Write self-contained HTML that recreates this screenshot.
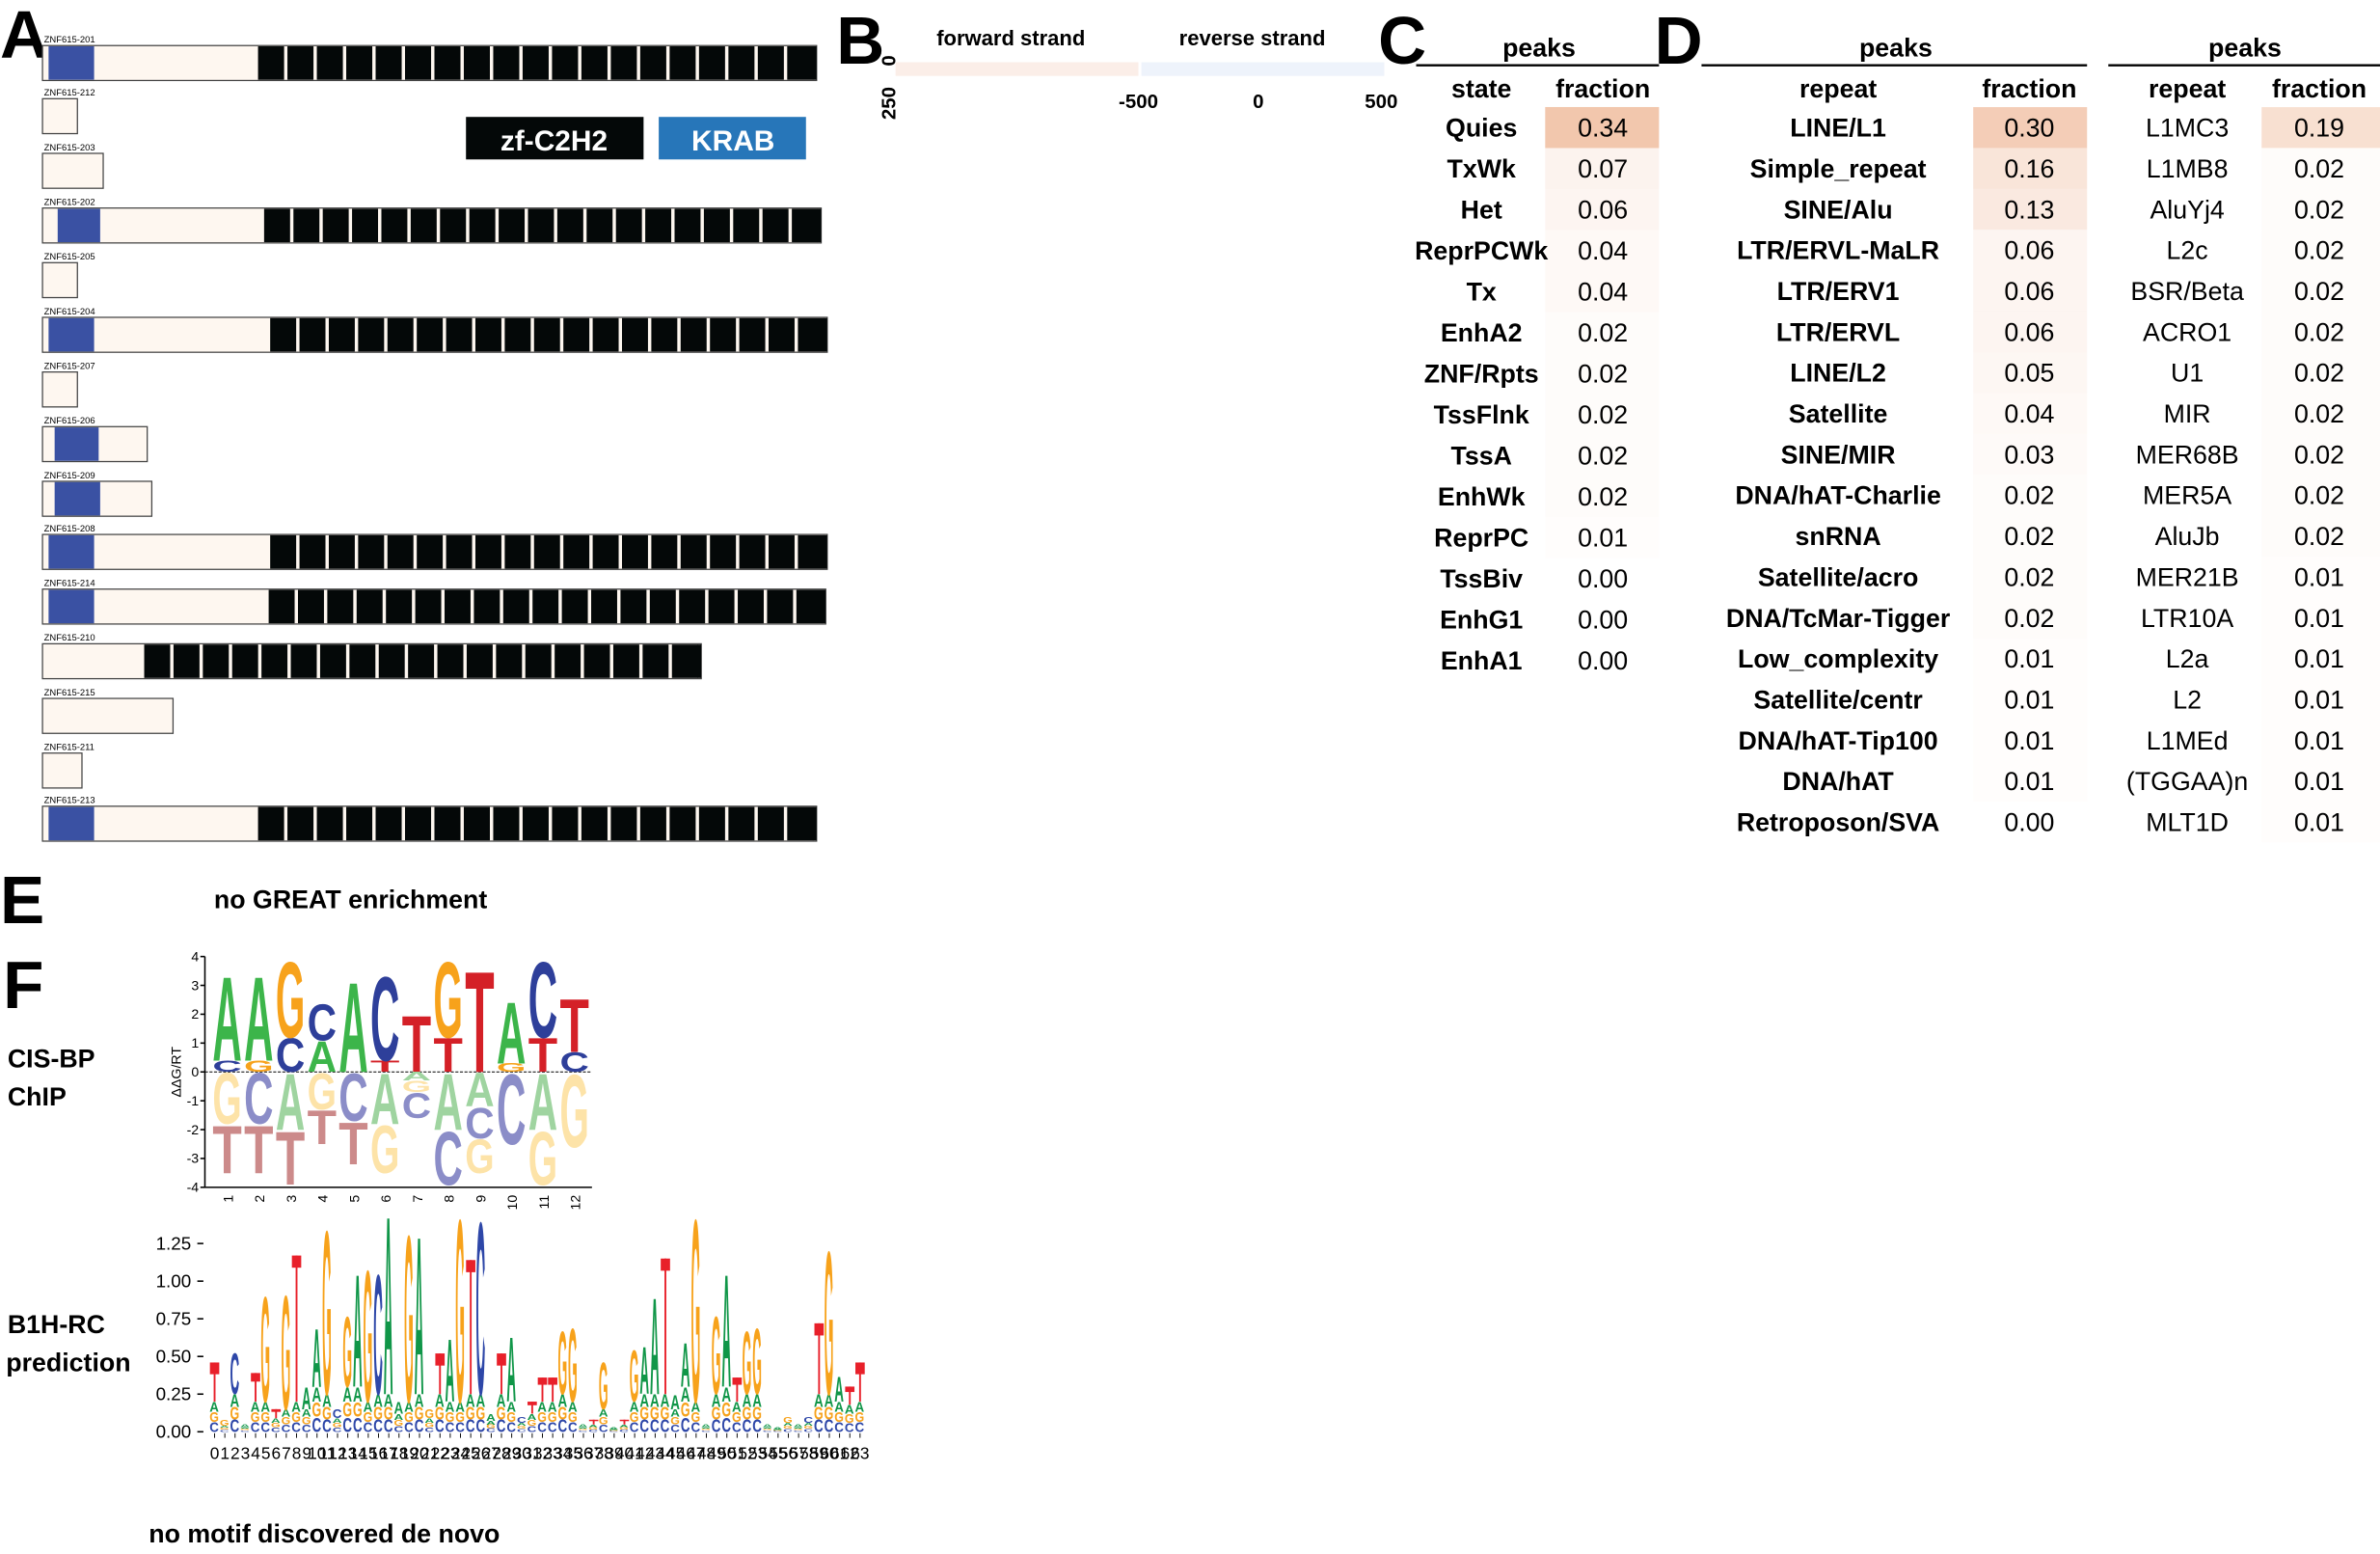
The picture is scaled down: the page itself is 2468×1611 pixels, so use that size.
<!DOCTYPE html>
<html><head><meta charset="utf-8"><style>
html,body{margin:0;padding:0;background:#fff;}
svg{display:block;font-family:"Liberation Sans",sans-serif;}
</style></head><body>
<svg id="fig" xmlns="http://www.w3.org/2000/svg" width="2468" height="1611" viewBox="0 0 1568 1023.5">
<g font-weight="bold" font-size="44" fill="#000">
<text x="0" y="38">A</text>
<text x="551" y="42">B</text>
<text x="908" y="42">C</text>
<text x="1090" y="42">D</text>
<text x="0" y="608">E</text>
<text x="2" y="664">F</text>
</g>
<g>
<rect x="307" y="77" width="117" height="28" fill="#040808"/>
<text x="365" y="99" font-size="19" font-weight="bold" fill="#fff" text-anchor="middle">zf-C2H2</text>
<rect x="434" y="77" width="97" height="28" fill="#2776b9"/>
<text x="483" y="99" font-size="19" font-weight="bold" fill="#fff" text-anchor="middle">KRAB</text>
</g>
<g id="transcripts"></g>
<g>
<text x="666" y="30" font-size="14" font-weight="bold" text-anchor="middle">forward strand</text>
<text x="825" y="30" font-size="14" font-weight="bold" text-anchor="middle">reverse strand</text>
<rect x="590" y="41" width="160" height="9" fill="#fbeee8"/>
<rect x="752" y="41" width="160" height="9" fill="#eef3fb"/>
<text transform="translate(590,40) rotate(-90)" font-size="13" font-weight="bold" text-anchor="middle">0</text>
<text transform="translate(590,68) rotate(-90)" font-size="13" font-weight="bold" text-anchor="middle">250</text>
<text x="750" y="71" font-size="13" font-weight="bold" text-anchor="middle">-500</text>
<text x="829" y="71" font-size="13" font-weight="bold" text-anchor="middle">0</text>
<text x="910" y="71" font-size="13" font-weight="bold" text-anchor="middle">500</text>
</g>
<g id="tables"></g>
<text x="141" y="598" font-size="17" font-weight="bold">no GREAT enrichment</text>
<text x="5" y="703" font-size="17" font-weight="bold">CIS-BP</text>
<text x="5" y="728" font-size="17" font-weight="bold">ChIP</text>
<text x="5" y="878" font-size="17" font-weight="bold">B1H-RC</text>
<text x="4" y="903" font-size="17" font-weight="bold">prediction</text>
<text x="98" y="1016" font-size="17" font-weight="bold">no motif discovered de novo</text>
<g id="cisbp"></g>
<g id="b1h"></g>
</svg>
<script>
// ---------- Panel A data ----------
const txNames=['ZNF615-201','ZNF615-212','ZNF615-203','ZNF615-202','ZNF615-205','ZNF615-204','ZNF615-207','ZNF615-206','ZNF615-209','ZNF615-208','ZNF615-214','ZNF615-210','ZNF615-215','ZNF615-211','ZNF615-213'];
const txTop=[30,65,101,137,173,209,245,281,317,352,388,424,460,496,531];
const txEnd=[538,51,68,541,51,545,51,97,100,545,544,462,114,54,538];
const krabStart=[32,0,0,38,0,32,0,36,36,32,32,0,0,0,32];
const krabEnd=[62,0,0,66,0,62,0,65,66,62,62,0,0,0,62];
const zfStart=[170,0,0,174,0,178,0,0,0,178,177,95,0,0,170];
const zfCount=[19,0,0,19,0,19,0,0,0,19,19,19,0,0,19];

// ---------- Panel C/D data ----------
const cStates=['Quies','TxWk','Het','ReprPCWk','Tx','EnhA2','ZNF/Rpts','TssFlnk','TssA','EnhWk','ReprPC','TssBiv','EnhG1','EnhA1'];
const cFrac=[0.34,0.07,0.06,0.04,0.04,0.02,0.02,0.02,0.02,0.02,0.01,0.00,0.00,0.00];
const dRepeats=['LINE/L1','Simple_repeat','SINE/Alu','LTR/ERVL-MaLR','LTR/ERV1','LTR/ERVL','LINE/L2','Satellite','SINE/MIR','DNA/hAT-Charlie','snRNA','Satellite/acro','DNA/TcMar-Tigger','Low_complexity','Satellite/centr','DNA/hAT-Tip100','DNA/hAT','Retroposon/SVA'];
const dFrac=[0.30,0.16,0.13,0.06,0.06,0.06,0.05,0.04,0.03,0.02,0.02,0.02,0.02,0.01,0.01,0.01,0.01,0.00];
const eRepeats=['L1MC3','L1MB8','AluYj4','L2c','BSR/Beta','ACRO1','U1','MIR','MER68B','MER5A','AluJb','MER21B','LTR10A','L2a','L2','L1MEd','(TGGAA)n','MLT1D'];
const eFrac=[0.19,0.02,0.02,0.02,0.02,0.02,0.02,0.02,0.02,0.02,0.02,0.01,0.01,0.01,0.01,0.01,0.01,0.01];

// ---------- CIS-BP logo data (bottom-to-top stacks) ----------
const cisPositions=['1','2','3','4','5','6','7','8','9','10','11','12'];
const cisPosLetters=[['C','A'],['G','A'],['C','G'],['A','C'],['A'],['T','C'],['T'],['T','G'],['T'],['G','A'],['T','C'],['C','T']];
const cisPosHeights=[[0.4,3.0],[0.4,3.0],[1.2,2.7],[1.1,1.3],[3.2],[0.4,3.0],[2.0],[1.2,2.7],[3.6],[0.3,2.2],[1.2,2.7],[0.7,1.9]];
const cisNegLetters=[['G','T'],['C','T'],['A','T'],['G','T'],['C','T'],['A','G'],['A','G','C'],['A','C'],['A','C','G'],['C'],['A','G'],['G']];
const cisNegHeights=[[1.8,1.7],[1.8,1.7],[2.0,1.9],[1.3,1.2],[1.7,1.5],[1.8,1.7],[0.3,0.4,0.9],[2.0,1.9],[1.2,1.1,1.2],[2.5],[2.0,1.9],[2.6]];
const cisTicks=[4,3,2,1,0,-1,-2,-3,-4];

// ---------- B1H logo data ----------
const b1hTopLetter=['T','G','C','A','T','G','T','G','T','A','A','G','C','G','A','G','C','A','A','G','A','G','T','A','G','T','C','A','T','A','C','T','T','T','G','G','A','T','G','A','T','G','A','A','T','A','A','G','A','G','A','T','G','G','A','A','G','A','C','T','G','A','T','T'];
const b1hTotal=[0.46,0.08,0.53,0.05,0.39,0.92,0.15,0.93,1.17,0.30,0.70,1.37,0.15,0.78,1.07,1.10,1.07,1.47,0.20,1.34,1.33,0.15,0.52,0.63,1.45,1.14,1.43,0.12,0.52,0.64,0.10,0.20,0.36,0.36,0.68,0.70,0.05,0.08,0.47,0.03,0.08,0.55,0.57,0.91,1.15,0.25,0.60,1.45,0.05,0.78,1.07,0.36,0.68,0.70,0.05,0.03,0.10,0.05,0.10,0.72,1.23,0.37,0.30,0.46];
const b1hBase=[0.2,0.04,0.25,0.03,0.2,0.2,0.1,0.15,0.2,0.15,0.3,0.25,0.1,0.3,0.3,0.2,0.25,0.25,0.12,0.2,0.25,0.1,0.25,0.2,0.2,0.25,0.25,0.08,0.25,0.2,0.06,0.12,0.2,0.2,0.25,0.2,0.03,0.05,0.15,0.02,0.05,0.2,0.25,0.25,0.25,0.2,0.3,0.2,0.03,0.25,0.3,0.2,0.25,0.25,0.03,0.02,0.06,0.03,0.08,0.25,0.25,0.2,0.2,0.2];
const b1hTicks=[0,0.25,0.5,0.75,1.0,1.25];
const b1hTickLabels=['0.00','0.25','0.50','0.75','1.00','1.25'];

const NS='http://www.w3.org/2000/svg';
function el(tag,parent){const e=document.createElementNS(NS,tag);parent.appendChild(e);return e;}

// ---------- draw Panel A ----------
const tx=document.getElementById('transcripts');
txNames.forEach((n,i)=>{
  const y=txTop[i];
  const lab=el('text',tx);
  
  
  lab.setAttribute('x',29);lab.setAttribute('y',y-2);lab.setAttribute('font-size',6);lab.textContent=n;
  const r=el('rect',tx);
  
  
  r.setAttribute('x',28);r.setAttribute('y',y);r.setAttribute('width',txEnd[i]-28);r.setAttribute('height',23);
  r.setAttribute('fill','#fef7f0');r.setAttribute('stroke','#444');r.setAttribute('stroke-width',0.8);
  if(krabEnd[i]>0){
    const k=el('rect',tx);
    
    
    k.setAttribute('x',krabStart[i]);k.setAttribute('y',y+0.5);k.setAttribute('width',krabEnd[i]-krabStart[i]);k.setAttribute('height',22);k.setAttribute('fill','#3a51a3');
  }
  if(zfCount[i]>0){
    const w=(txEnd[i]-zfStart[i])/zfCount[i];
    for(let j=0;j<zfCount[i];j++){
      const f=el('rect',tx);
      
      
      f.setAttribute('x',zfStart[i]+j*w);f.setAttribute('y',y+0.5);f.setAttribute('width',w-2.2);f.setAttribute('height',22);f.setAttribute('fill','#040808');
    }
    const last=el('rect',tx);
    
    
    last.setAttribute('x',txEnd[i]-2.5);last.setAttribute('y',y+0.5);last.setAttribute('width',2.5);last.setAttribute('height',22);last.setAttribute('fill','#040808');
  }
});

// ---------- draw tables ----------
const tb=document.getElementById('tables');
function txt(x,y,s,bold,anchor,size){const t=el('text',tb);t.setAttribute('x',x);t.setAttribute('y',y);t.setAttribute('font-size',size||17);
  if(bold)t.setAttribute('font-weight','bold');t.setAttribute('text-anchor',anchor||'middle');t.textContent=s;return t;}
function shade(v){const a=Math.min(1,v*1.5);return `rgba(230,145,95,${a})`;}
function header(cx,x1,x2,c1,c2,l1,l2){
  const p=txt(cx,37,'peaks',true);
  
  
  const ln=el('line',tb);
  
  
  ln.setAttribute('x1',x1);ln.setAttribute('x2',x2);ln.setAttribute('y1',43);ln.setAttribute('y2',43);ln.setAttribute('stroke','#000');ln.setAttribute('stroke-width',1.5);
  const h1=txt(c1,64,l1,true);
  
  
  const h2=txt(c2,64,l2,true);
  
  
}
function column(names,vals,nameX,fracX,cellX,cellW,boldNames,step){
  names.forEach((n,i)=>{
    const cy=84+i*step;
    const c=el('rect',tb);
    
    
    c.setAttribute('x',cellX);c.setAttribute('y',cy-step/2);c.setAttribute('width',cellW);c.setAttribute('height',step);c.setAttribute('fill',shade(vals[i]));
    const a=txt(nameX,cy+6,n,boldNames);
    
    
    const b=txt(fracX,cy+6,vals[i].toFixed(2),false);
    
    
  });
}
header(1014,933,1093,976,1056,'state','fraction');
column(cStates,cFrac,976,1056,1018,75,true,27);
header(1249,1121,1375,1211,1337,'repeat','fraction');
column(dRepeats,dFrac,1211,1337,1300,75,true,26.9);
header(1479,1389,1568,1441,1528,'repeat','fraction');
column(eRepeats,eFrac,1441,1528,1490,78,false,26.9);

// ---------- letter helper ----------
function letter(g,ch,x,w,yBottom,h,color,name){
  if(h<=0.3)return;
  const t=el('text',g);
  
  
  const S=40;
  t.setAttribute('font-size',S);t.setAttribute('font-weight','bold');t.setAttribute('fill',color);
  t.setAttribute('x',0);t.setAttribute('y',0);
  t.setAttribute('textLength',w);t.setAttribute('lengthAdjust','spacingAndGlyphs');
  t.setAttribute('transform',`translate(${x},${yBottom}) scale(1,${h/(0.72*S)})`);
  t.textContent=ch;
}

// ---------- CIS-BP logo ----------
const cg=document.getElementById('cisbp');
const cisX0=140,cisColW=20.8,cisY0=706,cisUnit=19;
const cisY=v=>cisY0-v*cisUnit;
const posCol={A:'#3cb54a',C:'#2e3f9a',G:'#f7a21b',T:'#d42027'};
const negCol={A:'#9fd4a0',C:'#8b8dc8',G:'#fde3a8',T:'#cc8a8a'};
{
  const ax=el('line',cg);
  
  
  ax.setAttribute('x1',135);ax.setAttribute('x2',135);ax.setAttribute('y1',cisY(4));ax.setAttribute('y2',cisY(-4));ax.setAttribute('stroke','#000');
  const bx=el('line',cg);
  
  
  bx.setAttribute('x1',135);bx.setAttribute('x2',390);bx.setAttribute('y1',cisY(-4));bx.setAttribute('y2',cisY(-4));bx.setAttribute('stroke','#000');
  const z=el('line',cg);
  
  
  z.setAttribute('x1',135);z.setAttribute('x2',390);z.setAttribute('y1',cisY(0));z.setAttribute('y2',cisY(0));z.setAttribute('stroke','#000');z.setAttribute('stroke-dasharray','2,1');z.setAttribute('stroke-width',0.7);
  const yt=el('text',cg);
  
  
  yt.setAttribute('transform','translate(119,706) rotate(-90)');yt.setAttribute('font-size',9);yt.setAttribute('text-anchor','middle');yt.textContent='ΔΔG/RT';
}
cisTicks.forEach(v=>{
  const t=el('text',cg);
  
  
  t.setAttribute('x',131);t.setAttribute('y',cisY(v)+3);t.setAttribute('font-size',9);t.setAttribute('text-anchor','end');t.textContent=v;
  const l=el('line',cg);
  
  
  l.setAttribute('x1',132);l.setAttribute('x2',135);l.setAttribute('y1',cisY(v));l.setAttribute('y2',cisY(v));l.setAttribute('stroke','#000');
});
cisPositions.forEach((p,i)=>{
  const x=cisX0+i*cisColW;
  let acc=0;
  cisPosLetters[i].forEach((ch,j)=>{const h=cisPosHeights[i][j];letter(cg,ch,x,cisColW-1.5,cisY(acc),h*cisUnit,posCol[ch],'cisbp-pos-letter');acc+=h;});
  acc=0;
  cisNegLetters[i].forEach((ch,j)=>{const h=cisNegHeights[i][j];acc+=h;letter(cg,ch,x,cisColW-1.5,cisY(-acc),h*cisUnit,negCol[ch],'cisbp-neg-letter');});
  const t=el('text',cg);
  
  
  t.setAttribute('transform',`translate(${x+cisColW/2+3},${cisY(-4)+5}) rotate(-90)`);t.setAttribute('font-size',9);t.setAttribute('text-anchor','end');t.textContent=p;
});

// ---------- B1H logo ----------
const bg=document.getElementById('b1h');
const bX0=138,bColW=6.75,bY0=943,bUnit=99.2;
const bY=v=>bY0-v*bUnit;
const bCol={A:'#109648',C:'#2e47a8',G:'#f7a21b',T:'#e8202a'};
const baseOrder=['C','G','A'];
b1hTicks.forEach((v,i)=>{
  const t=el('text',bg);
  
  
  t.setAttribute('x',126);t.setAttribute('y',bY(v)+4);t.setAttribute('font-size',12);t.setAttribute('text-anchor','end');t.textContent=b1hTickLabels[i];
  const l=el('line',bg);
  
  
  l.setAttribute('x1',130);l.setAttribute('x2',134);l.setAttribute('y1',bY(v));l.setAttribute('y2',bY(v));l.setAttribute('stroke','#000');
});
b1hTotal.forEach((tot,i)=>{
  const x=bX0+i*bColW;
  const base=Math.min(b1hBase[i],tot*0.6);
  let acc=0;
  baseOrder.forEach(ch=>{const h=base/3;letter(bg,ch,x,bColW-0.6,bY(acc),h*bUnit,bCol[ch],'b1h-base-letter');acc+=h;});
  const top=b1hTopLetter[i];
  const h=tot-base;
  if(top==='T'){
    const stem=el('rect',bg);
    
    
    stem.setAttribute('x',x+bColW/2-0.6);stem.setAttribute('y',bY(tot));stem.setAttribute('width',1.2);stem.setAttribute('height',h*bUnit);stem.setAttribute('fill',bCol.T);
    const bar=el('rect',bg);
    
    
    bar.setAttribute('x',x+0.3);bar.setAttribute('y',bY(tot));bar.setAttribute('width',bColW-0.6);bar.setAttribute('height',Math.min(h*bUnit*0.3,8));bar.setAttribute('fill',bCol.T);
  } else {
    letter(bg,top,x,bColW-0.6,bY(base),h*bUnit,bCol[top],'b1h-top-letter');
  }
  const tk=el('line',bg);
  
  
  tk.setAttribute('x1',x+bColW/2);tk.setAttribute('x2',x+bColW/2);tk.setAttribute('y1',bY0+1);tk.setAttribute('y2',bY0+4);tk.setAttribute('stroke','#000');tk.setAttribute('stroke-width',0.6);
  const t=el('text',bg);
  
  
  t.setAttribute('x',x+bColW/2);t.setAttribute('y',961);t.setAttribute('font-size',11);t.setAttribute('text-anchor','middle');t.textContent=i;
});
</script>
</body></html>
